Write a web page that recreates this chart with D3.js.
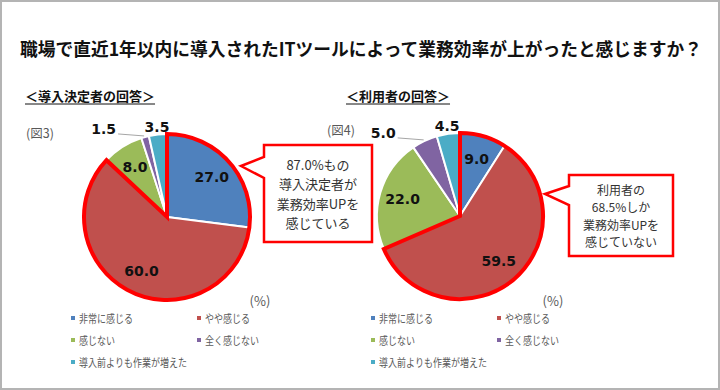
<!DOCTYPE html>
<html><head><meta charset="utf-8">
<script src="https://cdn.jsdelivr.net/npm/d3@7"></script>
<style>
html,body{margin:0;padding:0;background:#fff;}
svg{display:block;}
</style></head>
<body>
<svg id="chart" width="720" height="390"></svg>
<script>
// ---- data ----
const categories = ["非常に感じる", "やや感じる", "感じない", "全く感じない", "導入前よりも作業が増えた"];
const colors = ["#4F81BD", "#C0504D", "#9BBB59", "#8064A2", "#4BACC6"];
const deciderValues = [27.0, 60.0, 8.0, 1.5, 3.5];
const userValues = [9.0, 59.5, 22.0, 5.0, 4.5];
const titleText = "職場で直近1年以内に導入されたITツールによって業務効率が上がったと感じますか？";
const subtitles = ["＜導入決定者の回答＞", "＜利用者の回答＞"];
const figLabels = ["(図3)", "(図4)"];
const calloutLeft = ["87.0%もの", "導入決定者が", "業務効率UPを", "感じている"];
const calloutRight = ["利用者の", "68.5%しか", "業務効率UPを", "感じていない"];
const insideCats = [0, 1, 2];   // labels inside
const leaderCats = [3];         // labels with leader line

const svg = d3.select("#chart");
const JP = "'Noto Sans CJK JP','Noto Sans',sans-serif";

// frame
svg.append("rect").attr("x", 1).attr("y", 1).attr("width", 718).attr("height", 388)
  .attr("fill", "#fff").attr("stroke", "#b4b4b4").attr("stroke-width", 2);

// title
svg.append("text").attr("x", 20).attr("y", 48)
  .attr("dominant-baseline", "central")
  .attr("textLength", 682).attr("lengthAdjust", "spacingAndGlyphs")
  .style("font-family", JP).style("font-weight", 700).style("font-size", "18px")
  .attr("fill", "#111").text(titleText);

function subtitle(x, y, t) {
  const tx = svg.append("text").attr("x", x).attr("y", y)
    .style("font-family", JP).style("font-weight", 700).style("font-size", "13px")
    .attr("fill", "#111").text(t);
  const w = tx.node().getComputedTextLength();
  svg.append("line").attr("x1", x).attr("x2", x + w).attr("y1", y + 3).attr("y2", y + 3)
    .attr("stroke", "#111").attr("stroke-width", 1);
}
subtitle(25, 101, subtitles[0]);
subtitle(346, 101, subtitles[1]);

svg.append("text").attr("x", 26).attr("y", 132).attr("dominant-baseline", "central")
  .style("font-family", JP).style("font-size", "12.5px").attr("fill", "#595959").text(figLabels[0]);
svg.append("text").attr("x", 327).attr("y", 129).attr("dominant-baseline", "central")
  .style("font-family", JP).style("font-size", "12.5px").attr("fill", "#595959").text(figLabels[1]);

function drawPie(values, cx, cy, r, legendX) {
  const g = svg.append("g").attr("transform", `translate(${cx},${cy})`);
  const pie = d3.pie().sort(null).value(d => d);
  const arcs = pie(values);
  const arc = d3.arc().innerRadius(0).outerRadius(r);
  g.selectAll("path.slice").data(arcs).join("path").attr("class", "slice")
    .attr("d", arc).attr("fill", (d, i) => colors[i])
    .attr("stroke", "#fff").attr("stroke-width", 2).attr("stroke-linejoin", "round");
  // red outline around first two slices
  g.append("path").attr("d", arc({ startAngle: arcs[0].startAngle, endAngle: arcs[1].endAngle }))
    .attr("fill", "none").attr("stroke", "#FF0000").attr("stroke-width", 4).attr("stroke-linejoin", "miter");

  const inArc = d3.arc().innerRadius(r * 0.72).outerRadius(r * 0.72);
  const outArc = d3.arc().innerRadius(r + 8).outerRadius(r + 8);
  const edgeArc = d3.arc().innerRadius(r).outerRadius(r);
  arcs.forEach((d, i) => {
    const label = d.data.toFixed(1);
    const t = g.append("text").style("font-family", "'DejaVu Sans',Verdana,sans-serif")
      .style("font-weight", 700).style("font-size", "14px").attr("fill", "#111");
    if (insideCats.includes(i)) {
      const [x, y] = inArc.centroid(d);
      t.attr("x", x).attr("y", y).attr("text-anchor", "middle").attr("dominant-baseline", "central").text(label);
    } else if (leaderCats.includes(i)) {
      const [x, y] = edgeArc.centroid(d);
      g.append("line").attr("x1", x - 1).attr("y1", y - 1).attr("x2", x - 27).attr("y2", y - 3)
        .attr("stroke", "#a6a6a6").attr("stroke-width", 1);
      t.attr("x", x - 29).attr("y", y - 3).attr("text-anchor", "end").text(label);
    } else {
      const [x, y] = outArc.centroid(d);
      t.attr("x", x).attr("y", y).attr("text-anchor", "middle").attr("dominant-baseline", "central").text(label);
    }
  });

  // (%)
  svg.append("text").attr("x", cx + 93).attr("y", 300).attr("text-anchor", "middle")
    .attr("dominant-baseline", "central").style("font-family", JP).style("font-size", "13px")
    .attr("fill", "#595959").text("(%)");

  // legend
  const lg = svg.append("g");
  categories.forEach((c, i) => {
    const col = i % 2, row = Math.floor(i / 2);
    const x = legendX + col * 126, y = 318 + row * 22;
    lg.append("rect").attr("x", x - 2).attr("y", y - 2).attr("width", 4).attr("height", 4).attr("fill", colors[i]);
    lg.append("text").attr("x", x + 6).attr("y", y).attr("dominant-baseline", "central")
      .attr("textLength", 9 * c.length).attr("lengthAdjust", "spacingAndGlyphs")
      .style("font-family", JP).style("font-size", "11px").attr("fill", "#595959").text(c);
  });
}

drawPie(deciderValues, 167, 217, 83, 73);
drawPie(userValues, 460, 216, 83, 373);

function callout(x0, y0, x1, y1, tipX, tipY, b0, b1, lines, lineH, fs) {
  const p = d3.path();
  p.moveTo(x0, y0); p.lineTo(x1, y0); p.lineTo(x1, y1); p.lineTo(x0, y1);
  p.lineTo(x0, b1); p.lineTo(tipX, tipY); p.lineTo(x0, b0); p.closePath();
  svg.append("path").attr("d", p.toString()).attr("fill", "#fff")
    .attr("stroke", "#FF0000").attr("stroke-width", 2.5).attr("stroke-linejoin", "miter");
  const cx = (x0 + x1) / 2, cy = (y0 + y1) / 2;
  const start = cy - (lines.length - 1) * lineH / 2;
  lines.forEach((l, i) => {
    svg.append("text").attr("x", cx).attr("y", start + i * lineH).attr("text-anchor", "middle")
      .attr("dominant-baseline", "central").style("font-family", JP).style("font-size", fs + "px")
      .attr("fill", "#333").text(l);
  });
}
callout(264, 145, 372, 242, 241, 166, 157, 178, calloutLeft, 19.5, 13);
callout(569, 175, 673, 256, 545, 194, 186, 205, calloutRight, 17.5, 12);
</script>
</body></html>
